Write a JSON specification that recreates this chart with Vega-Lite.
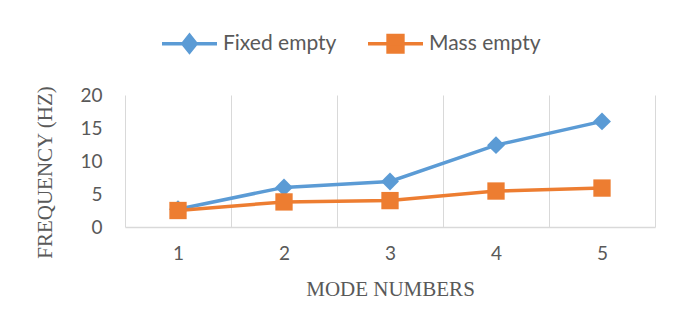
{
  "$schema": "https://vega.github.io/schema/vega-lite/v6.json",
  "autosize": "none",
  "width": 530,
  "height": 132,
  "padding": {"left": 125, "top": 95, "right": 31, "bottom": 103},
  "background": "white",
  "data": {
    "values": [
      {"mode": "1", "series": "Fixed empty", "freq": 2.7},
      {"mode": "2", "series": "Fixed empty", "freq": 6.0},
      {"mode": "3", "series": "Fixed empty", "freq": 6.9},
      {"mode": "4", "series": "Fixed empty", "freq": 12.4},
      {"mode": "5", "series": "Fixed empty", "freq": 16.0},
      {"mode": "1", "series": "Mass empty", "freq": 2.5},
      {"mode": "2", "series": "Mass empty", "freq": 3.8},
      {"mode": "3", "series": "Mass empty", "freq": 4.0},
      {"mode": "4", "series": "Mass empty", "freq": 5.45},
      {"mode": "5", "series": "Mass empty", "freq": 5.9}
    ]
  },
  "encoding": {
    "x": {
      "field": "mode",
      "type": "ordinal",
      "scale": {"paddingInner": 0, "paddingOuter": 0},
      "axis": {
        "title": "MODE NUMBERS",
        "labelAngle": 0,
        "tickBand": "extent",
        "grid": true,
        "gridColor": "#D9D9D9",
        "gridWidth": 1,
        "ticks": false,
        "domainColor": "#D9D9D9",
        "domainWidth": 1.5,
        "labelFont": "Lato",
        "labelFontSize": 19,
        "labelColor": "#595959",
        "labelPadding": 17,
        "titleFont": "Liberation Serif",
        "titleFontSize": 21,
        "titleFontWeight": "normal",
        "titleColor": "#595959",
        "titleBaseline": "alphabetic",
        "titleY": 68
      }
    },
    "y": {
      "field": "freq",
      "type": "quantitative",
      "scale": {"domain": [0, 20], "nice": false},
      "axis": {
        "title": "FREQUENCY (HZ)",
        "values": [0, 5, 10, 15, 20],
        "grid": false,
        "domain": false,
        "ticks": false,
        "labelFont": "Lato",
        "labelFontSize": 19,
        "labelColor": "#595959",
        "labelPadding": 23,
        "titleFont": "Liberation Serif",
        "titleFontSize": 21,
        "titleFontWeight": "normal",
        "titleColor": "#595959",
        "titleAngle": -90,
        "titleAlign": "center",
        "titleBaseline": "middle",
        "titleX": -80,
        "titleY": 77
      }
    },
    "color": {
      "field": "series",
      "type": "nominal",
      "scale": {"domain": ["Fixed empty", "Mass empty"], "range": ["#5B9BD5", "#ED7D31"]},
      "legend": {
        "title": null,
        "orient": "none",
        "direction": "horizontal",
        "legendX": 35,
        "legendY": -81,
        "labelFont": "Lato",
        "labelFontSize": 21,
        "labelColor": "#595959",
        "labelOffset": 4,
        "columnPadding": 24,
        "symbolSize": 3025,
        "symbolStrokeWidth": 3.5,
        "encode": {
          "symbols": {
            "update": {
              "shape": {"signal": "datum.value === 'Fixed empty' ? 'M-1,0H1M0,-0.3L0.24,0L0,0.3L-0.24,0Z' : 'M-1,0H1M-0.27,-0.3H0.27V0.3H-0.27Z'"},
              "fill": {"signal": "datum.value === 'Fixed empty' ? '#5B9BD5' : '#ED7D31'"},
              "stroke": {"signal": "datum.value === 'Fixed empty' ? '#5B9BD5' : '#ED7D31'"},
              "fillOpacity": {"value": 1},
              "strokeWidth": {"value": 3.5}
            }
          }
        }
      }
    }
  },
  "layer": [
    {"mark": {"type": "line", "strokeWidth": 3.5}},
    {
      "transform": [{"filter": "datum.series === 'Fixed empty'"}],
      "mark": {"type": "point", "shape": "diamond", "filled": true, "opacity": 1, "size": 320}
    },
    {
      "transform": [{"filter": "datum.series === 'Mass empty'"}],
      "mark": {"type": "point", "shape": "square", "filled": true, "opacity": 1, "size": 300}
    }
  ],
  "config": {"view": {"stroke": null}}
}
